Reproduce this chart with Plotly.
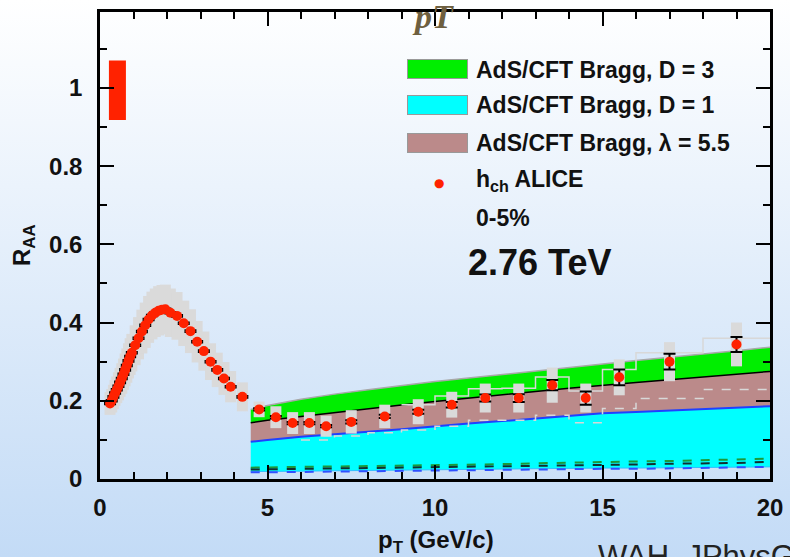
import base64
import plotly.graph_objects as go

# ---------------- data ----------------
# ALICE h_ch R_AA, 0-5%, 2.76 TeV
pt = [0.3, 0.35, 0.4, 0.45, 0.5, 0.55, 0.6, 0.65, 0.7, 0.75, 0.8, 0.85, 0.9, 0.95,
      1.05, 1.15, 1.25, 1.35, 1.45, 1.55, 1.65, 1.75, 1.85, 1.95, 2.1, 2.3, 2.5, 2.7,
      2.9, 3.1, 3.3, 3.5, 3.7, 3.9, 4.25, 4.75, 5.25, 5.75, 6.25, 6.75, 7.5, 8.5, 9.5,
      10.5, 11.5, 12.5, 13.5, 14.5, 15.5, 17.0, 19.0]
raa = [0.193, 0.200, 0.210, 0.220, 0.228, 0.237, 0.247, 0.257, 0.268, 0.279, 0.290,
       0.302, 0.313, 0.323, 0.342, 0.360, 0.377, 0.393, 0.408, 0.418, 0.425, 0.430,
       0.433, 0.434, 0.425, 0.417, 0.398, 0.378, 0.351, 0.327, 0.300, 0.279, 0.257,
       0.236, 0.210, 0.178, 0.158, 0.143, 0.143, 0.135, 0.146, 0.160, 0.172, 0.190,
       0.207, 0.207, 0.240, 0.207, 0.260, 0.300, 0.344]
stat_err = [0.002] * 35 + [0.003, 0.003, 0.003, 0.003, 0.003, 0.004, 0.004, 0.005,
                           0.007, 0.009, 0.010, 0.013, 0.017, 0.020, 0.020, 0.019]
sys_err = [0.029, 0.030, 0.031, 0.033, 0.034, 0.036, 0.037, 0.039, 0.040, 0.042, 0.044,
           0.045, 0.047, 0.048, 0.051, 0.054, 0.056, 0.058, 0.060, 0.061, 0.062, 0.063,
           0.063, 0.063, 0.062, 0.061, 0.058, 0.056, 0.053, 0.050, 0.047, 0.044, 0.042,
           0.040, 0.037, 0.020, 0.028, 0.028, 0.028, 0.027, 0.030, 0.030, 0.032, 0.033,
           0.037, 0.037, 0.045, 0.037, 0.046, 0.050, 0.056]

# normalisation uncertainty box
norm_pt = [0.52]
norm_val = [0.994]
norm_err = [0.076]

# AdS/CFT Bragg bands
theory_pt = [4.5, 5, 6, 7, 8, 9, 10, 11, 12, 13, 14, 15, 16, 17, 18, 19, 20]
green_top = [0.178, 0.188, 0.204, 0.217, 0.228, 0.239, 0.249, 0.258, 0.267, 0.276,
             0.285, 0.295, 0.303, 0.311, 0.319, 0.328, 0.337]
black_line = [0.144, 0.150, 0.160, 0.170, 0.180, 0.189, 0.198, 0.207, 0.215, 0.224,
              0.232, 0.240, 0.247, 0.254, 0.261, 0.268, 0.275]
blue_line = [0.095, 0.100, 0.108, 0.115, 0.121, 0.127, 0.135, 0.142, 0.148, 0.155,
             0.161, 0.168, 0.171, 0.175, 0.179, 0.183, 0.186]
cyan_bottom = [0.019, 0.019, 0.020, 0.021, 0.022, 0.023, 0.024, 0.025, 0.026, 0.027,
               0.027, 0.028, 0.028, 0.029, 0.029, 0.030, 0.031]
green_dash = [0.029, 0.030, 0.031, 0.032, 0.033, 0.034, 0.035, 0.037, 0.038, 0.040,
              0.042, 0.043, 0.045, 0.046, 0.048, 0.049, 0.052]
black_dash = [0.024, 0.025, 0.026, 0.027, 0.028, 0.029, 0.030, 0.031, 0.032, 0.034,
              0.035, 0.036, 0.037, 0.039, 0.040, 0.041, 0.044]
blue_dash = [0.017, 0.017, 0.018, 0.019, 0.020, 0.021, 0.022, 0.023, 0.023, 0.024,
             0.025, 0.026, 0.026, 0.027, 0.028, 0.029, 0.031]

# light grey step histograms
step_pt = [9, 10, 11, 12, 13, 14, 15, 16, 18, 20]
step_solid = [0.190, 0.212, 0.231, 0.232, 0.261, 0.225, 0.280, 0.323, 0.360, 0.360]
dstep_pt = [6, 7, 8, 9, 10, 11, 12, 13, 14, 15, 16, 18, 20]
step_dashed = [0.100, 0.110, 0.118, 0.125, 0.135, 0.150, 0.150, 0.163, 0.144, 0.180,
               0.206, 0.229, 0.229]

legend_labels = ["AdS/CFT Bragg, D = 3", "AdS/CFT Bragg, D = 1",
                 "AdS/CFT Bragg, λ = 5.5", "h<sub>ch</sub> ALICE"]

# ---------------- layout geometry ----------------
W, H = 790, 557
L, R, T, B = 100, 20, 12, 78
PW, PH = W - L - R, H - T - B


def pxx(xp):
    return (xp - L) / PW


def pxy(yp):
    return (H - B - yp) / PH


FONT = "Liberation Sans"
GREEN, CYAN, BROWN = "#00ee00", "#00ffff", "#bb8a8a"
RED = "#ff2200"

fig = go.Figure()

# bands
fig.add_trace(go.Scatter(x=theory_pt, y=cyan_bottom, mode="lines",
                         line=dict(color="#30c0ff", width=1)))
fig.add_trace(go.Scatter(x=theory_pt, y=blue_line, mode="lines", fill="tonexty",
                         fillcolor=CYAN, line=dict(color="#2040ff", width=2)))
fig.add_trace(go.Scatter(x=theory_pt, y=black_line, mode="lines", fill="tonexty",
                         fillcolor=BROWN, line=dict(color="black", width=1.5)))
fig.add_trace(go.Scatter(x=theory_pt, y=green_top, mode="lines", fill="tonexty",
                         fillcolor=GREEN, line=dict(color="#a8a8a8", width=1.5)))
# dashed curves near bottom
for yy, col in ((green_dash, "#1a9a3a"), (black_dash, "#103030"), (blue_dash, "#3050ff")):
    fig.add_trace(go.Scatter(x=theory_pt, y=yy, mode="lines",
                             line=dict(color=col, width=2, dash="dash")))
# grey step lines
fig.add_trace(go.Scatter(x=step_pt, y=step_solid, mode="lines", line_shape="hv",
                         line=dict(color="#d8d8d8", width=1.5)))
fig.add_trace(go.Scatter(x=dstep_pt, y=step_dashed, mode="lines", line_shape="hv",
                         line=dict(color="#d8d8d8", width=1.5, dash="dash")))

# systematic boxes
fig.add_trace(go.Scatter(x=pt, y=raa, mode="markers",
                         marker=dict(size=1, opacity=0),
                         error_y=dict(type="data", array=sys_err, color="#dadada",
                                      thickness=11, width=0)))
# statistical errors
fig.add_trace(go.Scatter(x=pt, y=raa, mode="markers",
                         marker=dict(size=1, opacity=0),
                         error_y=dict(type="data", array=stat_err, color="black",
                                      thickness=2, width=6)))
# data markers
fig.add_trace(go.Scatter(x=pt, y=raa, mode="markers",
                         marker=dict(size=10, color=RED, line=dict(width=0))))
# normalisation box
fig.add_trace(go.Scatter(x=norm_pt, y=norm_val, mode="markers",
                         marker=dict(size=1, opacity=0),
                         error_y=dict(type="data", array=norm_err, color=RED,
                                      thickness=17, width=0)))

ax = dict(ticks="inside", ticklen=14, tickwidth=2, tickcolor="black", showline=True,
          linecolor="black", linewidth=2.5, mirror="allticks", showgrid=False,
          zeroline=False, layer="above traces",
          tickfont=dict(family=FONT, size=24, color="#111", weight="bold"))
fig.update_layout(
    width=W, height=H, margin=dict(l=L, r=R, t=T, b=B, autoexpand=False),
    paper_bgcolor="white", plot_bgcolor="rgba(0,0,0,0)", showlegend=False,
    xaxis=dict(range=[0, 20], tick0=0, dtick=5, ticklabelstandoff=5,
               minor=dict(dtick=1, ticks="inside", ticklen=7, tickcolor="black",
                          tickwidth=2), **ax),
    yaxis=dict(range=[0, 1.194], tick0=0, dtick=0.2, ticklabelstandoff=10,
               minor=dict(dtick=0.1, ticks="inside", ticklen=7, tickcolor="black",
                          tickwidth=2), **ax),
)

# gradient background
svg = ('<svg xmlns="http://www.w3.org/2000/svg" width="790" height="557" '
       'preserveAspectRatio="none"><defs><linearGradient id="g" x1="0" y1="0" x2="0" y2="1">'
       '<stop offset="0" stop-color="#ffffff"/><stop offset="1" stop-color="#c3dbf6"/>'
       '</linearGradient></defs><rect width="790" height="557" fill="url(#g)"/></svg>')
src = "data:image/svg+xml;base64," + base64.b64encode(svg.encode()).decode()
fig.add_layout_image(dict(source=src, xref="paper", yref="paper", x=-L / PW,
                          y=(H - B) / PH, sizex=W / PW, sizey=H / PH, xanchor="left",
                          yanchor="top", sizing="stretch", layer="below"))

# legend swatches (annotation boxes)
for yc, col in ((69, GREEN), (105.5, CYAN), (142.5, BROWN)):
    fig.add_annotation(text=" ", xref="paper", yref="paper", x=pxx(407), y=pxy(yc),
                       xanchor="left", yanchor="middle", showarrow=False, width=59,
                       height=18, bgcolor=col, bordercolor="#999", borderwidth=1,
                       borderpad=0, font=dict(family=FONT, size=10))
fig.add_annotation(text="●", xref="paper", yref="paper", x=pxx(439), y=pxy(183),
                   xanchor="center", yanchor="middle", showarrow=False,
                   font=dict(family="DejaVu Sans", size=12, color=RED))

ann_font = dict(family=FONT, size=23, color="#111")
for lab, yc in zip(legend_labels, [69.5, 105.5, 142.5, 180.5]):
    fig.add_annotation(text="<b>" + lab + "</b>", xref="paper", yref="paper",
                       x=pxx(474), y=pxy(yc), xanchor="left", yanchor="middle",
                       showarrow=False, font=ann_font)
fig.add_annotation(text="<b>0-5%</b>", xref="paper", yref="paper", x=pxx(474),
                   y=pxy(218), xanchor="left", yanchor="middle", showarrow=False,
                   font=ann_font)
fig.add_annotation(text="<b>2.76 TeV</b>", xref="paper", yref="paper", x=pxx(466),
                   y=pxy(262), xanchor="left", yanchor="middle", showarrow=False,
                   font=dict(family=FONT, size=36, color="#111"))
# axis titles
fig.add_annotation(text="<b>p<sub>T</sub> (GeV/c)</b>", xref="paper", yref="paper",
                   x=pxx(436), y=pxy(541), xanchor="center", yanchor="middle",
                   showarrow=False, font=dict(family=FONT, size=24, color="#111"))
fig.add_annotation(text="<b>R<sub>AA</sub></b>", xref="paper", yref="paper",
                   x=pxx(23), y=pxy(245), xanchor="center", yanchor="middle",
                   textangle=-90, showarrow=False,
                   font=dict(family=FONT, size=24, color="#111"))
# top fragment and citation
fig.add_annotation(text="<b><i>pT</i></b>", xref="paper", yref="paper", x=pxx(433),
                   y=pxy(17), xanchor="center", yanchor="middle", showarrow=False,
                   font=dict(family="Liberation Serif", size=34, color="#6e5f3f"))
fig.add_annotation(text="WAH, JPhysG", xref="paper", yref="paper", x=pxx(596),
                   y=pxy(537), xanchor="left", yanchor="top", showarrow=False,
                   font=dict(family=FONT, size=31, color="#222"))

fig.write_html("out.html")
